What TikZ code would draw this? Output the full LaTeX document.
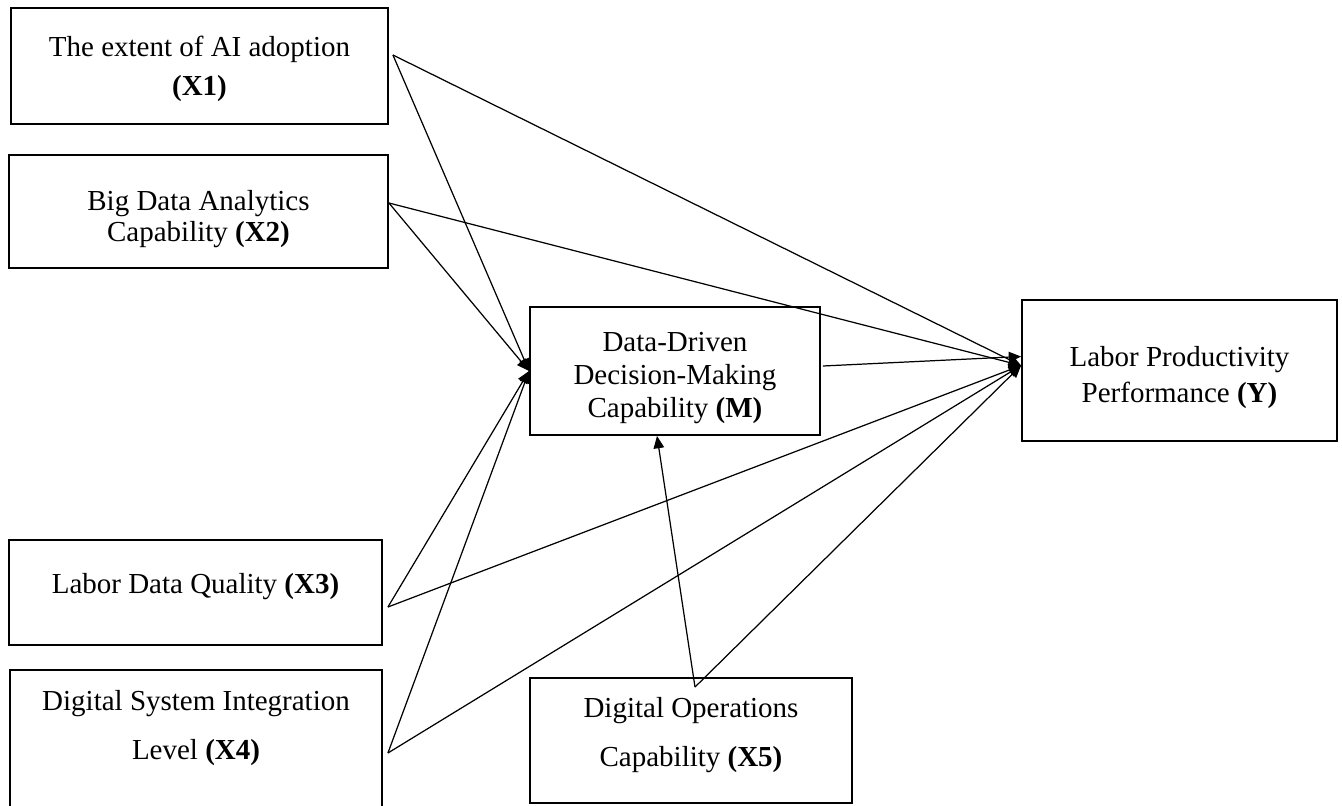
\documentclass[tikz,border=0pt]{standalone}
\usepackage{fontspec}
\setmainfont{Liberation Serif}
\usetikzlibrary{arrows.meta}

\tikzset{
  box/.style={draw, line width=1.1pt, inner sep=0pt},
  lbl/.style={align=center, inner sep=0pt, font=\fontsize{16.5}{19}\selectfont},
  link/.style={-{Triangle[length=7pt,width=6pt]}, line width=0.7pt}
}

\begin{document}
\begin{tikzpicture}[x=0.02cm, y=-0.02cm]

\clip (0,0) rectangle (1342,805);

\node [box, minimum width=7.54cm, minimum height=2.32cm] (x1) at (199.5,66) {};
\node [box, minimum width=7.58cm, minimum height=2.26cm] (x2) at (198.5,211.5) {};
\node [box, minimum width=5.8cm, minimum height=2.56cm] (m) at (675,371) {};
\node [box, minimum width=6.3cm, minimum height=2.82cm] (yy) at (1179.5,370.5) {};
\node [box, minimum width=7.46cm, minimum height=2.1cm] (x3) at (195.5,592.5) {};
\node [box, minimum width=7.44cm, minimum height=3cm] (x4) at (196,745) {};
\node [box, minimum width=6.44cm, minimum height=2.5cm] (x5) at (691,740.5) {};

\node [lbl] (x1t) at (199.5,69) {The extent of AI adoption\\[3pt]\textbf{(X1)}};
\node [lbl] (x2t) at (198.5,219) {Big Data Analytics\\[-1pt]Capability \textbf{(X2)}};
\node [lbl] (mt) at (675,378) {Data-Driven\\Decision-Making\\Capability \textbf{(M)}};
\node [lbl] (yt) at (1179.5,377.5) {Labor Productivity\\[1pt]Performance \textbf{(Y)}};
\node [lbl] (x3t) at (195.5,587) {Labor Data Quality \textbf{(X3)}};
\node [lbl] (x4t) at (196,728) {Digital System Integration\\[8.5pt]Level \textbf{(X4)}};
\node [lbl] (x5t) at (691,735) {Digital Operations\\[8.5pt]Capability \textbf{(X5)}};

\draw [link] ([shift={(4,-11)}]x1.east) -- (m.west);
\draw [link] ([shift={(4,-11)}]x1.east) -- ([shift={(0,-5)}]yy.west);
\draw [link] ([shift={(0,-8.5)}]x2.east) -- (m.west);
\draw [link] ([shift={(0,-8.5)}]x2.east) -- ([shift={(0,-5)}]yy.west);
\draw [link] ([shift={(5,14.5)}]x3.east) -- (m.west);
\draw [link] ([shift={(5,14.5)}]x3.east) -- ([shift={(0,-5)}]yy.west);
\draw [link] ([shift={(5,8)}]x4.east) -- (m.west);
\draw [link] ([shift={(5,8)}]x4.east) -- ([shift={(0,-5)}]yy.west);
\draw [link] ([shift={(2,-5)}]m.east) -- ([shift={(0,-14)}]yy.west);
\draw [link] ([shift={(4,10)}]x5.north) -- ([shift={(-18,0)}]m.south);
\draw [link] ([shift={(4,10)}]x5.north) -- ([shift={(0,-5)}]yy.west);

\end{tikzpicture}
\end{document}
